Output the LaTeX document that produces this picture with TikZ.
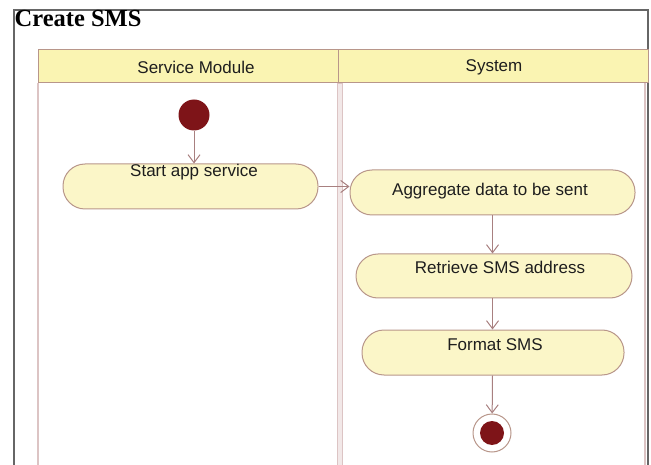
\documentclass[tikz,border=0pt]{standalone}
\usepackage{fontspec}
\setmainfont{Liberation Sans}
\newfontfamily\titlefont{Liberation Serif}
\usetikzlibrary{arrows.meta}
\definecolor{actfill}{HTML}{FBF6C8}
\definecolor{actdraw}{HTML}{B8968A}
\definecolor{hdrfill}{HTML}{FAF4B2}
\definecolor{lane}{HTML}{DCC4C4}
\definecolor{lanefill}{HTML}{F2E8E8}
\definecolor{dotred}{HTML}{7E1418}
\definecolor{flow}{HTML}{A88080}
\definecolor{framec}{HTML}{666666}
\definecolor{txt}{HTML}{1E1E1E}
\begin{document}
\begin{tikzpicture}[x=1pt,y=-1pt,
  act/.style={draw=actdraw, fill=actfill, rounded corners=22pt, line width=1pt, inner sep=0pt},
  lbl/.style={text=txt, font=\fontsize{17}{20}\selectfont, inner sep=0pt},
  flowarrow/.style={draw=flow, line width=1pt, -{Straight Barb[length=8pt,width=12pt]}}]
\useasboundingbox (0,0) rectangle (651,465);
% frame
\draw[framec, line width=1.2pt] (14,465) -- (14,10) -- (648,10) -- (648,465);
\node[anchor=base west, inner sep=0pt, font=\titlefont\bfseries\fontsize{24.5}{28}\selectfont] (title) at (14.5,27) {Create SMS};
% lanes
\draw[lane, line width=1.5pt] (38,83) -- (38,465);
\draw[lane, fill=lanefill, line width=0.8pt] (337.5,83) rectangle (342,466);
\draw[lane, line width=1.5pt] (645,83) -- (645,465);
% header
\draw[fill=hdrfill, draw=actdraw, line width=1pt] (38,50) rectangle (648,83);
\draw[actdraw, line width=1pt] (338,50) -- (338,83);
\node[lbl] (h1) at (196,67) {Service Module};
\node[lbl] (h2) at (494,67) {System};
% nodes
\node[circle, fill=dotred, minimum size=31pt, inner sep=0pt] (init) at (194,115) {};
\node[act, minimum width=255pt, minimum height=45pt] (a1) at (190.5,186.5) {};
\node[lbl] (t1) at (194,172) {Start app service};
\node[act, minimum width=285pt, minimum height=45pt] (a2) at (492.5,192.5) {};
\node[lbl] (t2) at (490,191) {Aggregate data to be sent};
\node[act, minimum width=276pt, minimum height=44pt] (a3) at (494,276) {};
\node[lbl] (t3) at (500,267) {Retrieve SMS address};
\node[act, minimum width=262pt, minimum height=45pt] (a4) at (493,352.5) {};
\node[lbl] (t4) at (495,345) {Format SMS};
\node[circle, draw=actdraw, fill=white, line width=1pt, minimum size=38pt, inner sep=0pt] (fin) at (492,433) {};
\node[circle, fill=dotred, minimum size=24pt, inner sep=0pt] (findot) at (fin) {};
% flows
\draw[flowarrow] (init) -- (init |- a1.north);
\draw[flowarrow] (a1.east) -- (a1.east -| a2.west);
\draw[flowarrow] (a2.south) -- (a2.south |- a3.north);
\draw[flowarrow] (a3.south -| a2.south) -- (a2.south |- a4.north);
\draw[flowarrow] (a4.south -| a2.south) -- (fin);
\end{tikzpicture}
\end{document}
